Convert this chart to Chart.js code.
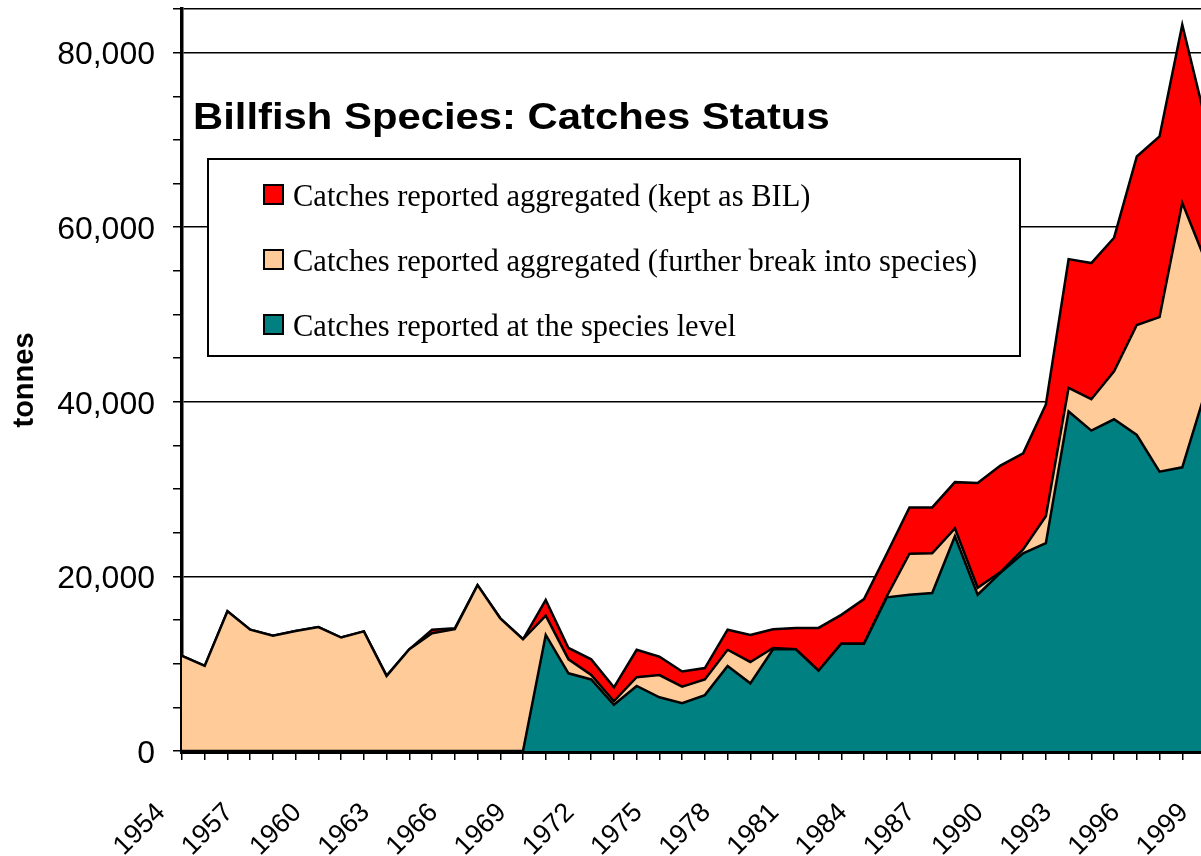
<!DOCTYPE html>
<html>
<head>
<meta charset="utf-8">
<title>Billfish Species: Catches Status</title>
<script src="https://cdn.jsdelivr.net/npm/chart.js@4.4.0/dist/chart.umd.min.js"></script>
<style>
    html, body { margin: 0; padding: 0; overflow: hidden; background: #fff; }
    #wrap { position: absolute; left: 0; top: 0; width: 1215px; height: 856px; }
</style>
</head>
<body>
<div id="wrap"><canvas id="areaChart"></canvas></div>
<script>
// years on the category axis
var years = ['1954', '1955', '1956', '1957', '1958', '1959', '1960', '1961', '1962', '1963',
             '1964', '1965', '1966', '1967', '1968', '1969', '1970', '1971', '1972', '1973',
             '1974', '1975', '1976', '1977', '1978', '1979', '1980', '1981', '1982', '1983',
             '1984', '1985', '1986', '1987', '1988', '1989', '1990', '1991', '1992', '1993',
             '1994', '1995', '1996', '1997', '1998', '1999'];

// tonnes, stacked from the bottom up
var speciesLevel = [0, 0, 0, 0, 0, 0, 0, 0, 0, 0,
                    0, 0, 0, 0, 0, 0, 13300, 8900, 8200, 5300,
                    7450, 6150, 5470, 6400, 9750, 7750, 11650, 11650, 9200, 12300,
                    12300, 17600, 17900, 18100, 24600, 17900, 20400, 22650, 23800, 38900,
                    36700, 38000, 36200, 32000, 32500, 41000];

var furtherBreak = [10900, 9750, 16000, 13900, 13200, 13750, 14200, 13000, 13700, 8600,
                    11650, 13500, 13950, 19000, 15200, 12800, 2200, 1600, 500, 400,
                    1000, 2550, 1900, 1800, 1850, 2450, 150, 0, 0, 0,
                    0, 100, 4700, 4550, 900, 800, 100, 450, 3100, 2700,
                    3600, 5500, 12600, 17700, 30300, 15300];

var keptAsBil = [0, 0, 0, 0, 0, 0, 0, 0, 0, 0,
                 0, 400, 100, 0, 0, 0, 1800, 1300, 1800, 1600,
                 3150, 2100, 1730, 1300, 2300, 3100, 2150, 2450, 4900, 3300,
                 5100, 4900, 5300, 5250, 5300, 12000, 12200, 11000, 12800, 14750,
                 15600, 15300, 19300, 20700, 20400, 16200];

var seriesNames = ['Catches reported at the species level',
                   'Catches reported aggregated (further break into species)',
                   'Catches reported aggregated (kept as BIL)'];
var seriesColors = ['#008080', '#FFCC99', '#FF0000'];
var chartTitle = 'Billfish Species: Catches Status';

var sansFont = "'Liberation Sans', Arial, sans-serif";

// title and key sit inside the plot, like the original
var titleAndKey = {
    id: 'titleAndKey',
    afterDraw: function (chart) {
        var ctx = chart.ctx;

        ctx.save();
        ctx.fillStyle = '#000';
        ctx.font = 'bold 37px ' + sansFont;
        ctx.textBaseline = 'alphabetic';
        ctx.translate(193, 129);
        ctx.scale(1.13, 1);
        ctx.fillText(chartTitle, 0, 0);
        ctx.restore();

        ctx.save();
        ctx.fillStyle = '#fff';
        ctx.fillRect(208, 159, 812, 197);
        ctx.strokeStyle = '#000';
        ctx.lineWidth = 2;
        ctx.strokeRect(208, 159, 812, 197);
        ctx.font = "30.5px 'Liberation Serif', 'Times New Roman', serif";
        ctx.textBaseline = 'alphabetic';
        var order = [2, 1, 0];
        for (var k = 0; k < order.length; k++) {
            var ds = order[k];
            var y = 206 + k * 65;
            ctx.fillStyle = seriesColors[ds];
            ctx.fillRect(264, y - 21, 19, 19);
            ctx.strokeRect(264, y - 21, 19, 19);
            ctx.fillStyle = '#000';
            ctx.fillText(seriesNames[ds], 293, y);
        }
        ctx.restore();
    }
};

var datasets = [
    { label: seriesNames[0], data: speciesLevel, backgroundColor: seriesColors[0], fill: 'origin' },
    { label: seriesNames[1], data: furtherBreak, backgroundColor: seriesColors[1], fill: '-1' },
    { label: seriesNames[2], data: keptAsBil, backgroundColor: seriesColors[2], fill: '-1' }
];

new Chart(document.getElementById('areaChart').getContext('2d'), {
    type: 'line',
    data: { labels: years, datasets: datasets },
    options: {
        responsive: true,
        maintainAspectRatio: false,
        animation: false,
        layout: { padding: { top: 9, right: 10, left: 0, bottom: 0 } },
        plugins: { legend: { display: false }, tooltip: { enabled: false } },
        elements: {
            point: { radius: 0 },
            line: { tension: 0, borderWidth: 2.5, borderColor: '#000' }
        },
        scales: {
            x: {
                offset: false,
                grid: { drawOnChartArea: false, color: '#000', tickColor: '#000', tickLength: 9, lineWidth: 1.5 },
                border: { color: '#000', width: 5 },
                ticks: {
                    autoSkip: false,
                    minRotation: 45,
                    maxRotation: 45,
                    padding: 37,
                    labelOffset: -21,
                    color: '#000',
                    font: { family: sansFont, size: 27 },
                    callback: function (v, i) { return i % 3 === 0 ? years[i] : ''; }
                },
                afterFit: function (scale) {
                    scale.height = 105;
                    scale.paddingLeft = 0;
                    scale.paddingRight = 0;
                }
            },
            y: {
                stacked: true,
                min: 0,
                max: 85000,
                grid: {
                    color: function (c) {
                        if (!c.tick) return 'rgba(0,0,0,0)';
                        var v = c.tick.value;
                        return (v % 20000 === 0 || v === 85000) ? '#000' : 'rgba(0,0,0,0)';
                    },
                    tickColor: '#000',
                    tickLength: 9,
                    lineWidth: 1.5
                },
                border: { color: '#000', width: 3.5 },
                ticks: {
                    stepSize: 5000,
                    padding: 18,
                    labelOffset: 3,
                    color: '#000',
                    font: { family: sansFont, size: 32 },
                    callback: function (v) { return v % 20000 === 0 ? v.toLocaleString('en-US') : ''; }
                },
                title: {
                    display: true,
                    text: 'tonnes',
                    color: '#000',
                    font: { family: sansFont, size: 29, weight: 'bold' },
                    padding: { top: 8, bottom: 0 }
                },
                afterFit: function (scale) {
                    scale.width = 182;
                    scale.paddingTop = 0;
                    scale.paddingBottom = 0;
                }
            }
        }
    },
    plugins: [titleAndKey]
});
</script>
</body>
</html>
